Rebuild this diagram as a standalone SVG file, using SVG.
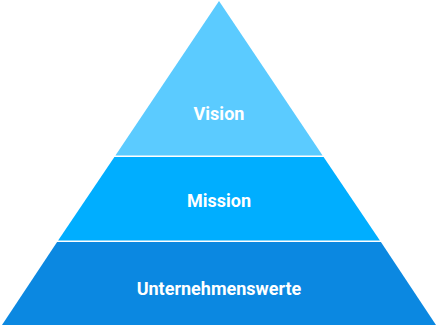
<svg xmlns="http://www.w3.org/2000/svg" width="439" height="327" viewBox="0 0 439 327">
<style>
.lbl{font-family:Roboto,"Liberation Sans",sans-serif;font-weight:bold;font-size:18px;fill:#ffffff;text-anchor:middle}
</style>
<rect width="439" height="327" fill="#ffffff"/>
<g id="tier-vision">
<polygon points="219,1 322.6,155.5 115.4,155.5" fill="#5BCBFF"/>
<text class="lbl" x="219" y="119.5">Vision</text>
</g>
<g id="tier-mission">
<polygon points="323.6,157 379.9,240.5 58.1,240.5 114.4,157" fill="#00AEFF"/>
<text class="lbl" x="219" y="207">Mission</text>
</g>
<g id="tier-werte">
<polygon points="380.9,242 436,325 2,325 57.1,242" fill="#0B88E1"/>
<text class="lbl" x="219" y="294.5">Unternehmenswerte</text>
</g>
<g id="connectors"/>
</svg>
